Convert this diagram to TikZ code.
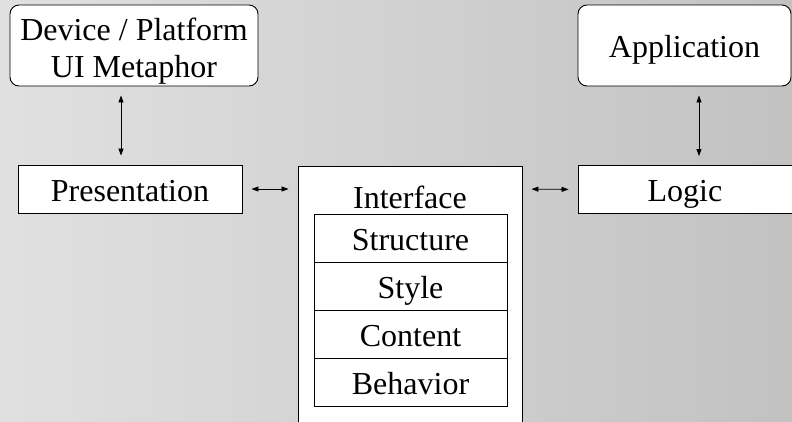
\documentclass[tikz,border=0pt]{standalone}
\usepackage{fontspec}
\setmainfont{Liberation Serif}
\usetikzlibrary{arrows.meta}
\tikzset{
  box/.style={draw, fill=white, line width=0.9pt, inner sep=0pt, align=center, text height=24pt, text depth=0pt},
  link/.style={{Triangle[length=7pt,width=5pt]}-{Triangle[length=7pt,width=5pt]}, line width=0.8pt, shorten >=9pt, shorten <=9pt}
}
\begin{document}
\begin{tikzpicture}[x=1pt, y=-1pt, font=\fontsize{32}{37}\selectfont]
\useasboundingbox (0,0) rectangle (792,421);
\clip (0,0) rectangle (792,421);
\shade[left color=black!12, right color=black!24] (0,0) rectangle (792,421);
\node[box, rounded corners=9pt, minimum width=248pt, minimum height=81pt, text height=63pt] (dev) at (134,45.5){Device / Platform\\UI Metaphor};
\node[box, rounded corners=9pt, minimum width=213pt, minimum height=81pt] (app) at (684.5,45.5){Application};
\node[box, minimum width=224pt, minimum height=48pt] (pres) at (130,189){Presentation};
\node[box, minimum width=214pt, minimum height=48pt] (logic) at (685,189.5){Logic};
\node[box, minimum width=224pt, minimum height=280pt, text height=, text depth=] (iface) at (410,306){};
\node[anchor=base, inner sep=0pt] (ilabel) at (410,208){Interface};
\node[box, minimum width=193pt, minimum height=48pt] (struct) at (410.5,238){Structure};
\node[box, minimum width=193pt, minimum height=48pt] (style) at (410.5,286){Style};
\node[box, minimum width=193pt, minimum height=48pt] (content) at (410.5,334){Content};
\node[box, minimum width=193pt, minimum height=48pt] (behav) at (410.5,382){Behavior};
\draw[link] ([xshift=-9pt]pres.north) -- ([xshift=-9pt]pres.north |- dev.south);
\draw[link] ([xshift=14pt]logic.north) -- ([xshift=14pt]logic.north |- app.south);
\draw[link] (pres.east) -- (pres.east -| iface.west);
\draw[link] (pres.east -| iface.east) -- (logic.west);
\end{tikzpicture}
\end{document}
